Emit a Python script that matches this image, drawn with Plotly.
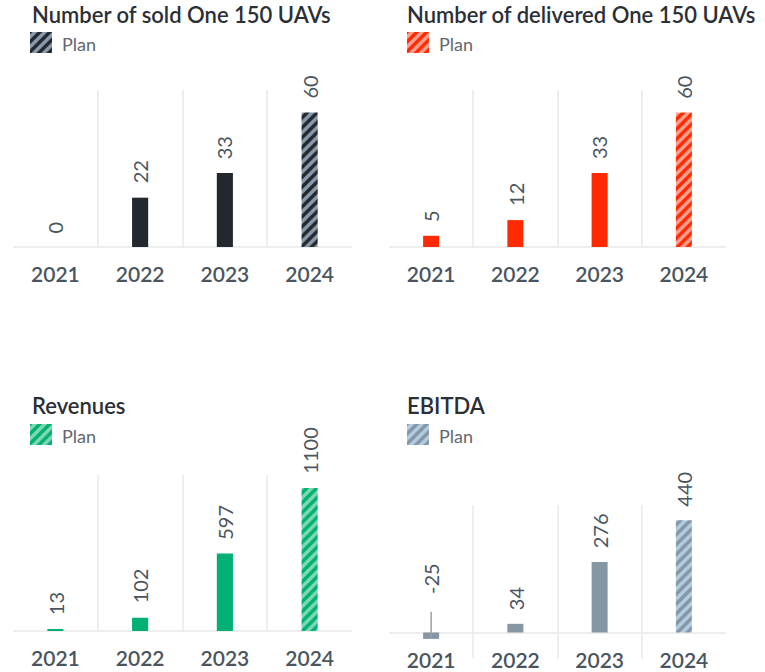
import plotly.graph_objects as go

years = ["2021", "2022", "2023", "2024"]

sold_values = [0, 22, 33, 60]
delivered_values = [5, 12, 33, 60]
revenue_values = [13, 102, 597, 1100]
ebitda_values = [-25, 34, 276, 440]

titles = ["Number of sold One 150 UAVs", "Number of delivered One 150 UAVs", "Revenues", "EBITDA"]
legend_label = "Plan"
plan_flags = [False, False, False, True]

FONT = "Lato"
TXT = "#4a5560"

panels = [
    dict(vals=sold_values, solid="#23282f", fg="#23282f", bg="#8a9bad",
         dx=[13, 352], dy=[90, 247], rng=[0, 70], standoff=13),
    dict(vals=delivered_values, solid="#ff2a00", fg="#ff2a00", bg="#ffa090",
         dx=[389, 726], dy=[90, 247], rng=[0, 70], standoff=13),
    dict(vals=revenue_values, solid="#00b074", fg="#00b074", bg="#80d8b0",
         dx=[13, 352], dy=[475, 631], rng=[0, 1200], standoff=13),
    dict(vals=ebitda_values, solid="#8796a4", fg="#8796a4", bg="#b0cde2",
         dx=[389, 726], dy=[505, 658], rng=[-100, 500], standoff=-12),
]
title_pos = [(30, 14), (405, 14), (30, 405), (405, 405)]
swatch_pos = [([30, 52], [32, 53]), ([407, 429], [32, 53]),
              ([30, 52], [424, 445]), ([407, 429], [424, 445])]

W, H = 765, 672
px = lambda v: v / W
py = lambda v: 1 - v / H


def pattern(p, shape):
    return dict(shape=shape, fgcolor=p["fg"], bgcolor=p["bg"], fgopacity=1,
                size=7, solidity=0.5, fillmode="overlay")


fig = go.Figure()
layout = dict(width=W, height=H, autosize=False, margin=dict(l=0, r=0, t=0, b=0, pad=0),
              paper_bgcolor="white", plot_bgcolor="white",
              showlegend=False, font=dict(family=FONT, color=TXT))
annotations = []

for i, p in enumerate(panels):
    n = i + 1
    xa = "x" if n == 1 else f"x{n}"
    ya = "y" if n == 1 else f"y{n}"
    shapes_pat = ["/" if f else "" for f in plan_flags]
    fig.add_trace(go.Bar(
        x=years, y=p["vals"], xaxis=xa, yaxis=ya, width=0.19,
        marker=dict(color=p["solid"], line=dict(width=0), pattern=pattern(p, shapes_pat)),
        cliponaxis=False, hoverinfo="skip"))
    key_x = "xaxis" if n == 1 else f"xaxis{n}"
    key_y = "yaxis" if n == 1 else f"yaxis{n}"
    layout[key_x] = dict(domain=[px(p["dx"][0]), px(p["dx"][1])], anchor=ya,
                         type="category", categoryorder="array", categoryarray=years,
                         range=[-0.5, len(years) - 0.5], autorange=False,
                         tickson="boundaries", showgrid=True,
                         gridcolor="#eeeeee", gridwidth=2, ticks="", showline=False,
                         tickangle=0, automargin=False,
                         tickfont=dict(family=FONT, size=21, color=TXT, weight=600),
                         ticklabelstandoff=p["standoff"],
                         fixedrange=True)
    layout[key_y] = dict(domain=[py(p["dy"][1]), py(p["dy"][0])], anchor=xa,
                         range=p["rng"], autorange=False, showgrid=False,
                         showticklabels=False, automargin=False,
                         zeroline=True, zerolinecolor="#eeeeee", zerolinewidth=2,
                         fixedrange=True)
    # value labels (x given as category index)
    for k, v in enumerate(p["vals"]):
        if v < 0:
            annotations.append(dict(x=k, y=v, xref=xa, yref=ya, text=str(v),
                                    textangle=-90, showarrow=True, arrowhead=0,
                                    arrowwidth=1.5, arrowcolor="#9aa0a6",
                                    ax=0, ay=-60, startstandoff=16,
                                    font=dict(family=FONT, size=20, color=TXT)))
        else:
            annotations.append(dict(x=k, y=v, xref=xa, yref=ya, text=str(v),
                                    textangle=-90, showarrow=False, yanchor="bottom",
                                    yshift=12, font=dict(family=FONT, size=20, color=TXT)))
    # title
    tx, ty = title_pos[i]
    annotations.append(dict(x=px(tx), y=py(ty), xref="paper", yref="paper",
                            xanchor="left", yanchor="middle", showarrow=False,
                            text=titles[i],
                            font=dict(family=FONT, size=22, color="#2b2f36", weight=600)))
    # legend swatch (mini axis) + label
    sx, sy = swatch_pos[i]
    m = n + 4
    fig.add_trace(go.Bar(
        x=[0], y=[1], xaxis=f"x{m}", yaxis=f"y{m}", width=1,
        marker=dict(color=p["solid"], line=dict(width=0), pattern=pattern(p, "/")),
        hoverinfo="skip"))
    layout[f"xaxis{m}"] = dict(domain=[px(sx[0]), px(sx[1])], anchor=f"y{m}",
                               range=[-0.5, 0.5], visible=False, fixedrange=True)
    layout[f"yaxis{m}"] = dict(domain=[py(sy[1]), py(sy[0])], anchor=f"x{m}",
                               range=[0, 1], visible=False, fixedrange=True)
    annotations.append(dict(x=px(sx[1] + 8), y=py((sy[0] + sy[1]) / 2 + 1),
                            xref="paper", yref="paper", xanchor="left", yanchor="middle",
                            showarrow=False, text=legend_label,
                            font=dict(family=FONT, size=18, color="#5f6770")))

layout["annotations"] = annotations
fig.update_layout(**layout)
fig.write_html("out.html")
